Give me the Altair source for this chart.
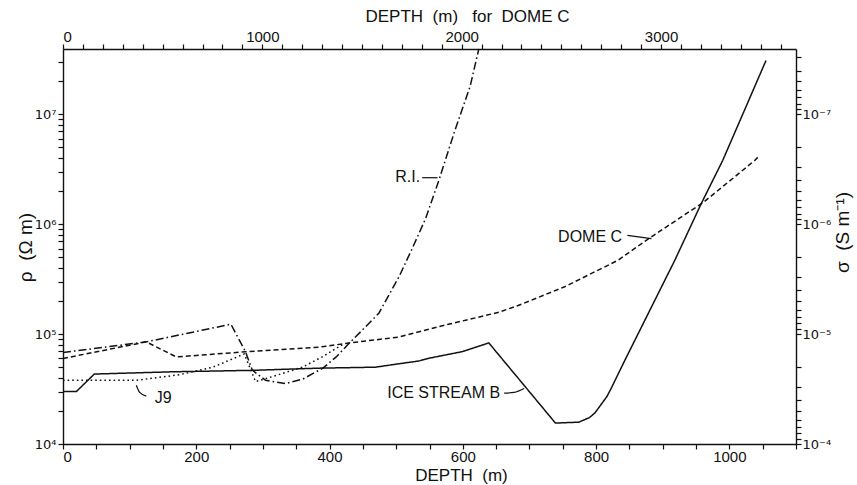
import altair as alt
import pandas as pd

# ---------------- data ----------------
ice_depth = [0, 20, 47, 164, 284, 384, 469, 504, 534, 549, 599, 639, 739, 774, 790, 798, 816, 823, 843, 918, 958, 990, 1055]
ice_rho = [3.0e4, 3.0e4, 4.33e4, 4.54e4, 4.68e4, 4.9e4, 5.0e4, 5.37e4, 5.69e4, 6.03e4, 6.92e4, 8.32e4,
           1.55e4, 1.58e4, 1.74e4, 1.91e4, 2.69e4, 3.24e4, 5.75e4, 4.68e5, 1.55e6, 3.8e6, 3.09e7]

dome_depth = [0, 125, 170, 274, 384, 429, 504, 564, 654, 683, 753, 833, 879, 961, 1038, 1045]
dome_rho = [6.0e4, 8.5e4, 6.2e4, 6.9e4, 7.6e4, 8.3e4, 9.4e4, 1.17e5, 1.58e5, 1.82e5, 2.7e5, 4.7e5,
            7.4e5, 1.58e6, 3.8e6, 4.2e6]

j9_depth = [0, 110, 175, 225, 272, 289, 314, 359, 389, 419]
j9_rho = [3.8e4, 3.8e4, 4.27e4, 5.0e4, 6.6e4, 3.7e4, 4.1e4, 5.0e4, 6.2e4, 8.0e4]

ri_depth = [0, 125, 252, 274, 284, 304, 334, 360, 390, 410, 429, 450, 474, 504, 524, 544, 564, 588, 611, 624]
ri_rho = [6.8e4, 8.5e4, 1.23e5, 6.9e4, 4.7e4, 3.8e4, 3.55e4, 3.9e4, 4.9e4, 6.2e4, 8.2e4, 1.1e5,
          1.55e5, 3.3e5, 6.0e5, 1.12e6, 2.5e6, 7.1e6, 1.8e7, 3.93e7]

series_names = ["ICE STREAM B", "DOME C", "J9", "R.I."]

label_text = ["R.I.", "DOME C", "ICE STREAM B", "J9"]
label_depth = [536, 839, 656, 163]
label_rho = [2.7e6, 7.6e5, 2.9e4, 2.62e4]

leader_id = ["ri", "ri", "dc", "dc", "isb", "isb", "isb", "j9", "j9", "j9"]
leader_depth = [539, 562, 847, 883, 662, 677, 692, 125, 115, 110]
leader_rho = [2.65e6, 2.65e6, 7.9e5, 7.4e5, 2.9e4, 2.95e4, 3.2e4, 2.73e4, 2.95e4, 3.43e4]

x_bottom_labels = [0, 200, 400, 600, 800, 1000]
x_top_labels = [0, 1000, 2000, 3000]          # Dome C depth (m)
rho_labels = [1e4, 1e5, 1e6, 1e7]
sigma_labels = [1e-7, 1e-6, 1e-5, 1e-4]

X_MAX = 1100                  # bottom depth axis (m)
X_TOP_MAX = 3677              # Dome C depth at the right edge (m)
RHO_MIN, RHO_MAX = 1e4, 3.93e7
SIG_MIN, SIG_MAX = 1.0 / RHO_MAX, 1e-4
TOP_FACTOR = X_TOP_MAX / X_MAX  # Dome C depth per bottom-axis metre

W, H = 733, 395
FONT = "Liberation Sans"
INK = "#111111"
NB = "\u00a0"

# ---------------- tables ----------------
rows = []
for name, ds, rs in zip(series_names,
                        [ice_depth, dome_depth, j9_depth, ri_depth],
                        [ice_rho, dome_rho, j9_rho, ri_rho]):
    for d, r in zip(ds, rs):
        rows.append({"series": name, "depth": d, "rho": r})
curves = pd.DataFrame(rows)
labels = pd.DataFrame({"text": label_text, "depth": label_depth, "rho": label_rho})
leaders = pd.DataFrame({"id": leader_id, "depth": leader_depth, "rho": leader_rho})

# tick positions (major + minor), all on the shared depth / resistivity scales
bottom_ticks = list(range(0, X_MAX + 1, 50))
top_ticks = [v / TOP_FACTOR for v in range(0, X_TOP_MAX, 100)]
left_ticks = [float(k * 10 ** e) for e in range(4, 8) for k in range(1, 10) if k * 10 ** e <= RHO_MAX]
right_ticks = [1.0 / (k * 10.0 ** e) for e in range(-8, -3) for k in range(1, 10)
               if SIG_MIN <= k * 10.0 ** e <= SIG_MAX * 1.0001]

top_anchor = pd.DataFrame({"v": [v / TOP_FACTOR for v in x_top_labels]})
right_anchor = pd.DataFrame({"v": [1.0 / s for s in sigma_labels]})

# ---------------- scales ----------------
def xs():
    return alt.Scale(domain=[0, X_MAX], nice=False, zero=False)

def ys():
    return alt.Scale(type="log", domain=[RHO_MIN, RHO_MAX], nice=False)

sup = "['\u2070','\u00b9','\u00b2','\u00b3','\u2074','\u2075','\u2076','\u2077','\u2078','\u2079']"
LOGE = "(log(datum.value)/LN10)"
IS_DECADE = "(abs(" + LOGE + " - round(" + LOGE + ")) < 0.001)"

common = dict(grid=False, ticks=True, tickSize=5, tickColor=INK, tickWidth=1.2, labelOverlap=False,
              labelColor=INK, domainColor=INK, domainWidth=1.4,
              titleFontWeight="normal", titleColor=INK, titleAlign="center", titleBaseline="middle")

x_axis = alt.Axis(orient="bottom", values=bottom_ticks,
                  labelExpr="datum.value % 200 == 0 && datum.value <= 1000 ? '' + datum.value : ''",
                  labelPadding=0, labelFont=FONT, labelFontSize=15,
                  title="DEPTH" + NB * 2 + "(m)", titleFont=FONT, titleFontSize=17,
                  titleX=398, titleY=31, **common)
y_axis = alt.Axis(orient="left", values=left_ticks,
                  labelExpr=IS_DECADE + " ? '10' + " + sup + "[round(" + LOGE + ")] : ''",
                  labelPadding=2, labelFont="DejaVu Sans", labelFontSize=13,
                  title="\u03c1" + NB * 2 + "(\u03a9" + NB + "m)", titleFont=FONT, titleFontSize=19,
                  titleX=-38, titleY=198, titleAngle=270, **common)
xt_axis = alt.Axis(orient="top", values=top_ticks,
                   labelExpr="round(datum.value * " + repr(TOP_FACTOR) + ") % 1000 == 0 ? "
                             "format(round(datum.value * " + repr(TOP_FACTOR) + "), 'd') : ''",
                   labelPadding=0, labelFont=FONT, labelFontSize=15,
                   title="DEPTH" + NB * 2 + "(m)" + NB * 3 + "for" + NB * 2 + "DOME" + NB + "C",
                   titleFont=FONT, titleFontSize=17, titleX=404, titleY=-33, **common)
yr_axis = alt.Axis(orient="right", values=right_ticks,
                   labelExpr=IS_DECADE + " ? '10\u207b' + " + sup + "[round(" + LOGE + ")] : ''",
                   labelPadding=1, labelFont="DejaVu Sans", labelFontSize=13,
                   title="\u03c3" + NB * 2 + "(S" + NB + "m\u207b\u00b9)", titleFont=FONT, titleFontSize=19,
                   titleX=46, titleY=183, titleAngle=270, **common)

# ---------------- layers ----------------
lines = alt.Chart(curves).mark_line(color=INK, strokeWidth=1.5).encode(
    x=alt.X("depth:Q", scale=xs(), axis=x_axis),
    y=alt.Y("rho:Q", scale=ys(), axis=y_axis),
    strokeDash=alt.StrokeDash("series:N", legend=None,
                              scale=alt.Scale(domain=series_names,
                                              range=[[1, 0], [5, 3], [1.6, 3], [8, 3, 1.6, 3]])),
    order="depth:Q",
)
leader_lines = alt.Chart(leaders).mark_line(color=INK, strokeWidth=1.2, interpolate="monotone").encode(
    x=alt.X("depth:Q", scale=xs(), axis=None),
    y=alt.Y("rho:Q", scale=ys(), axis=None),
    detail="id:N",
)
texts = alt.Chart(labels).mark_text(align="right", baseline="middle", font=FONT, fontSize=16,
                                    color=INK).encode(
    x=alt.X("depth:Q", scale=xs(), axis=None),
    y=alt.Y("rho:Q", scale=ys(), axis=None),
    text="text:N",
)
top_layer = alt.Chart(top_anchor).mark_point(opacity=0).encode(
    x=alt.X("v:Q", scale=xs(), axis=xt_axis))
right_layer = alt.Chart(right_anchor).mark_point(opacity=0).encode(
    y=alt.Y("v:Q", scale=ys(), axis=yr_axis))

chart = alt.layer(
    lines, leader_lines, texts, top_layer, right_layer,
).properties(
    width=W, height=H,
    autosize=alt.AutoSizeParams(type="none"),
    padding={"left": 63, "top": 49, "right": 61, "bottom": 41},
).configure_view(stroke=None)

chart.save("out.html", embed_options={"renderer": "svg", "actions": False})
